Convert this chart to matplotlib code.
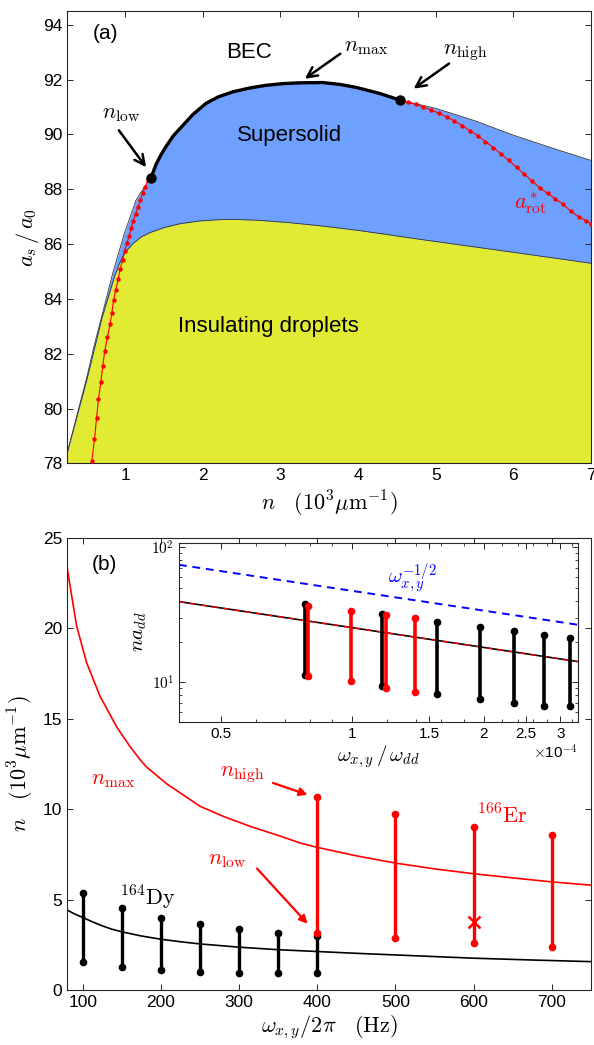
import matplotlib.pyplot as plt
from matplotlib.ticker import FixedLocator, NullFormatter, LogLocator

plt.rcParams['font.family'] = ['Liberation Sans', 'DejaVu Sans']
plt.rcParams['mathtext.fontset'] = 'cm'
plt.rcParams['xtick.direction'] = 'in'
plt.rcParams['ytick.direction'] = 'in'

# ---- panel (a): phase diagram ----
# upper boundary of the supersolid region (BEC / supersolid)
n_up = [0.25, 0.51, 0.60, 0.71, 0.84, 0.99, 1.14, 1.24, 1.33, 1.396, 1.46, 1.524, 1.62, 1.74,
        1.87, 2.04, 2.2, 2.385, 2.6, 2.815, 3.03, 3.245, 3.546, 3.77, 3.98, 4.28, 4.54,
        5.0, 5.5, 6.0, 6.5, 7.0]
a_up = [78.35, 81.2, 82.3, 83.5, 84.95, 86.4, 87.6, 88.05, 88.4, 88.9, 89.25, 89.55, 89.95, 90.32,
        90.72, 91.13, 91.37, 91.55, 91.69, 91.79, 91.85, 91.88, 91.89, 91.82, 91.71, 91.49, 91.25,
        90.95, 90.5, 89.97, 89.5, 89.05]
# top of the insulating droplet region
n_yel = [0.25, 0.51, 0.70, 0.86, 0.92, 0.97, 1.03, 1.10, 1.20, 1.32, 1.50, 1.70, 1.95, 2.2,
         2.4, 2.7, 3.12, 3.5, 4.0, 4.83, 6.0, 7.0]
a_yel = [78.35, 81.1, 83.3, 84.8, 85.25, 85.55, 85.8, 86.02, 86.25, 86.42, 86.6, 86.74, 86.84,
         86.89, 86.9, 86.87, 86.78, 86.67, 86.5, 86.16, 85.7, 85.3]
# a*_rot, low-density branch
n_rot_lo = [0.570, 0.604, 0.630, 0.655, 0.686, 0.711, 0.737, 0.771, 0.803, 0.828, 0.849, 0.880,
            0.910, 0.935, 0.965, 0.991, 1.022, 1.052, 1.077, 1.103, 1.133, 1.164, 1.194, 1.223,
            1.258, 1.293, 1.33]
a_rot_lo = [78.09, 78.88, 79.64, 80.34, 80.98, 81.57, 82.11, 82.62, 83.07, 83.49, 83.95, 84.34,
            84.74, 85.09, 85.42, 85.73, 86.04, 86.31, 86.58, 86.85, 87.10, 87.35, 87.59, 87.85,
            88.09, 88.34, 88.4]
# a*_rot, high-density branch
n_rot_hi = [4.54, 4.64, 4.74, 4.84, 4.94, 5.04, 5.14, 5.24, 5.34, 5.44, 5.54, 5.64, 5.74, 5.84,
            5.94, 6.04, 6.14, 6.24, 6.34, 6.44, 6.54, 6.64, 6.74, 6.84, 6.94, 7.0]
a_rot_hi = [91.25, 91.17, 91.09, 91.0, 90.89, 90.77, 90.64, 90.49, 90.32, 90.14, 89.95, 89.74,
            89.52, 89.29, 89.05, 88.8, 88.55, 88.3, 88.05, 87.85, 87.65, 87.45, 87.2, 87.0,
            86.85, 86.74]
n_dots = [1.33, 4.54]
a_dots = [88.4, 91.25]

# ---- panel (b) ----
w_curve_dy = [80, 90, 100, 112, 125, 137, 150, 175, 200, 225, 250, 300, 350, 400, 450, 500,
              550, 600, 675, 750]
n_curve_dy = [4.43, 4.2, 4.02, 3.78, 3.55, 3.37, 3.22, 2.99, 2.81, 2.67, 2.55, 2.37, 2.23, 2.13,
              2.03, 1.94, 1.85, 1.76, 1.66, 1.57]
w_curve_er = [80, 92.3, 105.1, 122.2, 143.5, 160, 173.4, 182, 207.6, 250.2, 280, 314.2, 350,
              378.2, 400, 450, 500, 550, 600, 650, 700, 750]
n_curve_er = [23.4, 20.13, 18.1, 16.25, 14.55, 13.5, 12.74, 12.32, 11.4, 10.16, 9.6, 9.05, 8.55,
              8.13, 7.89, 7.42, 7.02, 6.7, 6.43, 6.2, 5.98, 5.80]

w_dy = [100, 150, 200, 250, 300, 350, 400]
dy_hi = [5.39, 4.52, 3.97, 3.64, 3.38, 3.18, 2.99]
dy_lo = [1.57, 1.29, 1.11, 1.02, 0.92, 0.92, 0.92]
w_er = [400, 500, 600, 700]
er_hi = [10.65, 9.73, 8.99, 8.59]
er_lo = [3.18, 2.86, 2.59, 2.37]
w_cross, n_cross = 600, 3.75

# ---- inset (x in units of 1e-4) ----
x_dy_in = [0.777, 1.169, 1.566, 1.965, 2.345, 2.751, 3.154]
dy_in_hi = [37.8, 32.1, 27.8, 25.7, 24.0, 22.5, 21.2]
dy_in_lo = [11.3, 9.4, 8.16, 7.49, 7.0, 6.7, 6.7]
x_er_in = [0.791, 0.993, 1.194, 1.39]
er_in_hi = [36.7, 33.9, 31.2, 30.1]
er_in_lo = [11.2, 10.2, 9.1, 8.4]
x_line_in = [0.4, 3.3]
y_fit_in = [39.5, 14.2]
y_power_in = [74.0, 26.6]

blue = '#6EA1FF'
yellow = '#E2EB33'
spine_c = '#262626'

fig = plt.figure(figsize=(5.94, 10.45), dpi=100)
ax1 = fig.add_axes([0.1128, 0.5565, 0.8822, 0.433])
ax2 = fig.add_axes([0.1128, 0.0526, 0.8822, 0.4326])
axin = fig.add_axes([0.3013, 0.3094, 0.6723, 0.1713])

for ax in (ax1, ax2, axin):
    for s in ax.spines.values():
        s.set_color(spine_c)
        s.set_linewidth(0.8)
    ax.tick_params(top=True, right=True, length=4, width=0.7, color=spine_c, labelsize=12.5)

# panel (a)
ax1.fill_between(n_up, a_up, 78, color=blue, lw=0, zorder=1)
ax1.plot(n_up, a_up, color='#333333', lw=0.6, zorder=2)
ax1.fill_between(n_yel, a_yel, 78, color=yellow, lw=0, zorder=2)
ax1.plot(n_yel, a_yel, color='#333333', lw=0.6, zorder=2)
ax1.plot(n_rot_lo, a_rot_lo, '-o', color='red', lw=0.8, ms=2.2, zorder=3)
ax1.plot(n_rot_hi, a_rot_hi, '-o', color='red', lw=0.8, ms=2.2, zorder=3)
seg_n = [n for n in n_up if 1.33 <= n <= 4.54]
seg_a = [a for n, a in zip(n_up, a_up) if 1.33 <= n <= 4.54]
ax1.plot(seg_n, seg_a, color='k', lw=2.4, zorder=4, solid_capstyle='round')
ax1.plot(n_dots, a_dots, 'o', color='k', ms=6.5, zorder=5)

ax1.set_xlim(0.25, 7)
ax1.set_ylim(78, 94.5)
ax1.set_xticks([1, 2, 3, 4, 5, 6, 7])
ax1.set_yticks([78, 80, 82, 84, 86, 88, 90, 92, 94])
ax1.set_xlabel(r'$n\quad(10^3\mu{\rm m}^{-1})$', fontsize=16, labelpad=4)
ax1.set_ylabel(r'$a_s\,/\,a_0$', fontsize=16, labelpad=1)

ax1.text(0.742, 93.68, '(a)', fontsize=15, ha='center', va='center')
ax1.text(2.6, 92.99, 'BEC', fontsize=16, ha='center', va='center')
ax1.text(3.116, 89.97, 'Supersolid', fontsize=16, ha='center', va='center')
ax1.text(2.845, 83.0, 'Insulating droplets', fontsize=16, ha='center', va='center')
arr_k = dict(arrowstyle='->', color='k', lw=1.8, mutation_scale=18)
ax1.annotate('', xy=(1.29, 88.72), xytext=(0.897, 90.23), arrowprops=arr_k)
ax1.text(0.945, 90.75, r'$n_{\rm low}$', fontsize=16, ha='center', va='center')
ax1.annotate('', xy=(3.284, 91.97), xytext=(3.8, 93.0), arrowprops=arr_k)
ax1.text(4.106, 93.2, r'$n_{\rm max}$', fontsize=16, ha='center', va='center')
ax1.annotate('', xy=(4.686, 91.61), xytext=(5.2, 92.64), arrowprops=arr_k)
ax1.text(5.374, 93.0, r'$n_{\rm high}$', fontsize=16, ha='center', va='center')
ax1.text(6.213, 87.5, r'$a^*_{\rm rot}$', fontsize=16, color='red', ha='center', va='center')

# panel (b)
ax2.plot(w_curve_er, n_curve_er, color='red', lw=1.2)
ax2.plot(w_curve_dy, n_curve_dy, color='k', lw=1.2)
ax2.vlines(w_dy, dy_lo, dy_hi, color='k', lw=2.4)
ax2.plot(w_dy, dy_lo, 'o', color='k', ms=4.5)
ax2.plot(w_dy, dy_hi, 'o', color='k', ms=4.5)
ax2.vlines(w_er, er_lo, er_hi, color='red', lw=2.4)
ax2.plot(w_er, er_lo, 'o', color='red', ms=4.5)
ax2.plot(w_er, er_hi, 'o', color='red', ms=4.5)
ax2.plot([w_cross], [n_cross], 'x', color='red', ms=8, mew=1.8)

ax2.set_xlim(80, 750)
ax2.set_ylim(0, 25)
ax2.set_xticks([100, 200, 300, 400, 500, 600, 700])
ax2.set_yticks([0, 5, 10, 15, 20, 25])
ax2.set_xlabel(r'$\omega_{x,y}/2\pi\quad({\rm Hz})$', fontsize=16, labelpad=3)
ax2.set_ylabel(r'$n\quad(10^3\mu{\rm m}^{-1})$', fontsize=16, labelpad=5)

ax2.text(128.5, 23.55, '(b)', fontsize=15, ha='center', va='center')
ax2.text(138.8, 11.63, r'$n_{\rm max}$', fontsize=16, color='red', ha='center', va='center')
arr_r = dict(arrowstyle='-|>', color='red', lw=1.6, mutation_scale=12)
ax2.text(304, 11.9, r'$n_{\rm high}$', fontsize=16, color='red', ha='center', va='center')
ax2.annotate('', xy=(391, 10.75), xytext=(340, 11.5), arrowprops=arr_r)
ax2.text(284.8, 7.2, r'$n_{\rm low}$', fontsize=16, color='red', ha='center', va='center')
ax2.annotate('', xy=(390, 3.55), xytext=(320.6, 6.83), arrowprops=arr_r)
ax2.text(183.6, 5.1, r'$^{164}{\rm Dy}$', fontsize=16, ha='center', va='center')
ax2.text(636.5, 9.6, r'$^{166}{\rm Er}$', fontsize=16, color='red', ha='center', va='center')

# inset
axin.set_xscale('log')
axin.set_yscale('log')
axin.plot(x_line_in, y_power_in, '--', color='blue', lw=1.4, dashes=(4, 3))
axin.plot(x_line_in, y_fit_in, '-', color='k', lw=1.2)
axin.plot(x_line_in, y_fit_in, '--', color='red', lw=1.0, dashes=(4, 4))
axin.vlines(x_dy_in, dy_in_lo, dy_in_hi, color='k', lw=2.6)
axin.plot(x_dy_in, dy_in_lo, 'o', color='k', ms=4.5)
axin.plot(x_dy_in, dy_in_hi, 'o', color='k', ms=4.5)
axin.vlines(x_er_in, er_in_lo, er_in_hi, color='red', lw=2.6)
axin.plot(x_er_in, er_in_lo, 'o', color='red', ms=4.5)
axin.plot(x_er_in, er_in_hi, 'o', color='red', ms=4.5)

axin.set_xlim(0.4, 3.3)
axin.set_ylim(5.1, 108)
axin.xaxis.set_major_locator(FixedLocator([0.5, 1, 1.5, 2, 2.5, 3]))
axin.set_xticklabels(['0.5', '1', '1.5', '2', '2.5', '3'])
axin.xaxis.set_minor_locator(LogLocator(base=10, subs=[0.4, 0.6, 0.7, 0.8, 0.9, 1.2, 1.4, 1.6, 1.8, 2.2, 2.4, 2.6, 2.8, 3.2], numticks=20))
axin.xaxis.set_minor_formatter(NullFormatter())
axin.yaxis.set_major_locator(FixedLocator([10, 100]))
axin.set_yticklabels([r'$10^1$', r'$10^2$'])
axin.yaxis.set_minor_locator(LogLocator(base=10, subs=range(2, 10), numticks=20))
axin.yaxis.set_minor_formatter(NullFormatter())
axin.tick_params(which='both', top=True, right=True, color=spine_c, labelsize=11)
axin.tick_params(which='major', length=4)
axin.tick_params(which='minor', length=2.5)
axin.set_xlabel(r'$\omega_{x,y}\,/\,\omega_{dd}$', fontsize=15, labelpad=2)
axin.set_ylabel(r'$na_{dd}$', fontsize=15, labelpad=2)
axin.text(1.0, -0.12, r'$\times$10$^{-4}$', transform=axin.transAxes, fontsize=11,
          ha='right', va='top', family=['Liberation Sans', 'DejaVu Sans'])
axin.text(1.37, 59.3, r'$\omega_{x,y}^{-1/2}$', fontsize=15, color='blue', ha='center', va='center')

fig.savefig('out.png', dpi=100)
